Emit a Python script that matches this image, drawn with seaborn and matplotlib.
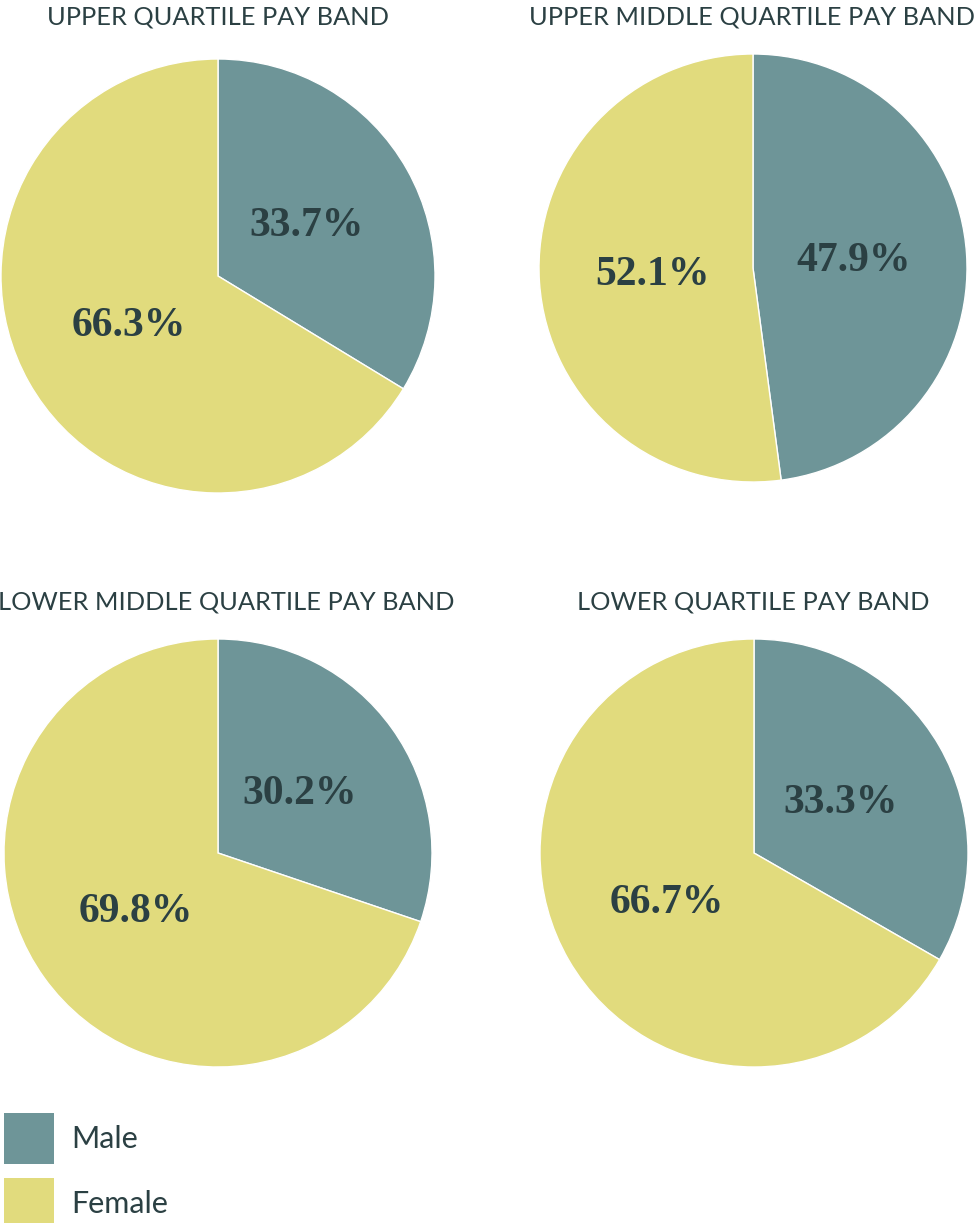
import matplotlib
matplotlib.use("Agg")
import matplotlib.pyplot as plt
from matplotlib.patches import Patch
import seaborn as sns

# ---- data ----
bands = ["UPPER QUARTILE PAY BAND", "UPPER MIDDLE QUARTILE PAY BAND",
         "LOWER MIDDLE QUARTILE PAY BAND", "LOWER QUARTILE PAY BAND"]
male = [33.7, 47.9, 30.2, 33.3]
female = [66.3, 52.1, 69.8, 66.7]
genders = ["Male", "Female"]

# ---- style ----
sns.set_theme(style="white")
colors = ["#6e9598", "#e1db7d"]
text_color = "#2b4043"

W, H = 978, 1223
fig = plt.figure(figsize=(W / 100, H / 100), dpi=100)

# pie boxes in pixels: (left, top, size)
boxes = [(1, 59, 434), (539, 54, 428), (4, 639, 428), (540, 639, 428)]
title_pos = [(218, 17), (752, 17), (226, 602), (753, 602)]

for i, (band, m, f) in enumerate(zip(bands, male, female)):
    l, t, s = boxes[i]
    ax = fig.add_axes([l / W, 1 - (t + s) / H, s / W, s / H])
    wedges, texts, autotexts = ax.pie(
        [m, f], colors=colors, startangle=90, counterclock=False,
        autopct="%.1f%%", pctdistance=0.47,
        wedgeprops=dict(linewidth=1, edgecolor="white"),
        textprops=dict(fontsize=30, fontweight="bold", color=text_color,
                       family="Liberation Serif"))
    ax.set_aspect("equal")
    ax.set_xlim(-1, 1)
    ax.set_ylim(-1, 1)
    ax.axis("off")
    tx, ty = title_pos[i]
    fig.text(tx / W, 1 - ty / H, band, ha="center", va="center",
             fontsize=18.3, color=text_color, family="Lato")

handles = [Patch(facecolor=c, edgecolor="none") for c in colors]
leg = fig.legend(handles, genders, loc="lower left", bbox_to_anchor=(4 / W, -6 / H),
                 frameon=False, fontsize=22, handlelength=1.65, handleheight=2.2,
                 handletextpad=0.55, labelspacing=0.45, borderpad=0, borderaxespad=0)
for t in leg.get_texts():
    t.set_color(text_color)
    t.set_family("Lato")

fig.savefig("out.png", dpi=100)
